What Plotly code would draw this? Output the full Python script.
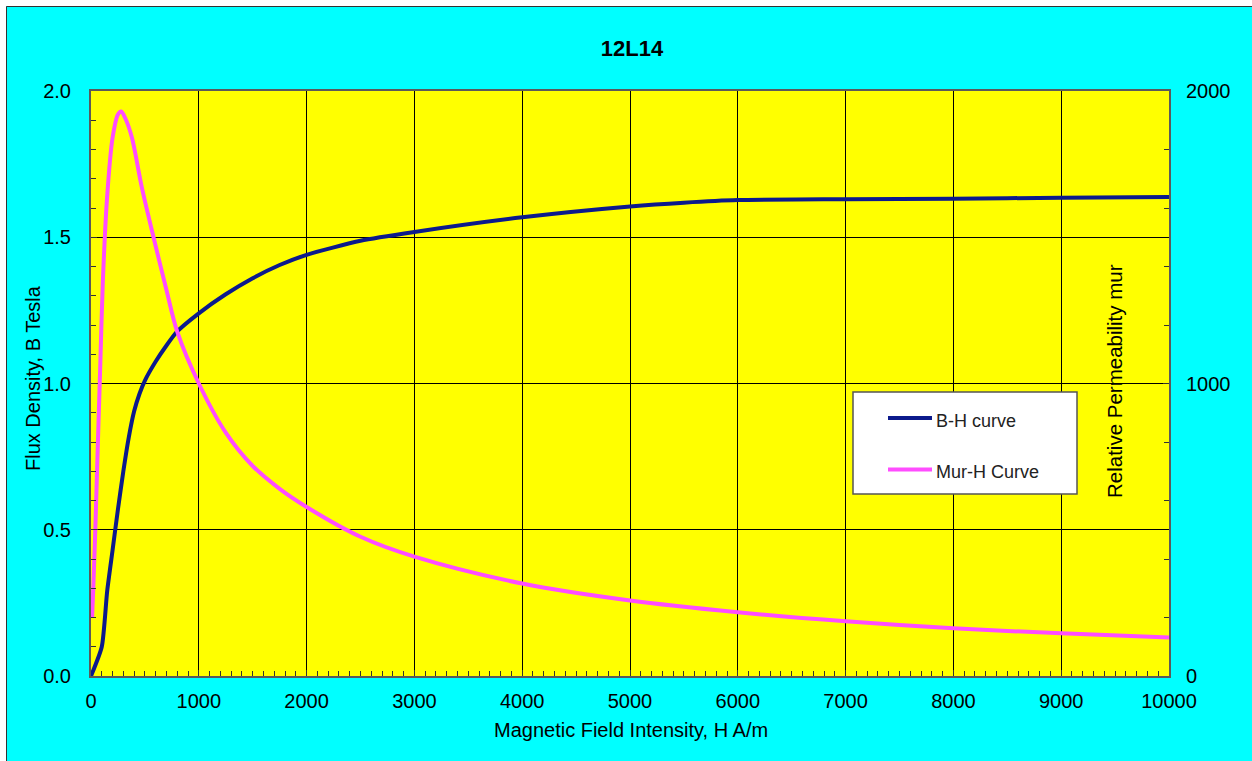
import plotly.graph_objects as go

# ---- data ----
H_bh = [0, 100, 150, 200, 250, 300, 350, 400, 450, 500, 600, 700, 800, 1000, 1250, 1500, 1750,
        2000, 2500, 3000, 4000, 5000, 5500, 6000, 7000, 8000, 9000, 10000]
B_bh = [0.0, 0.10, 0.29, 0.43, 0.57, 0.70, 0.815, 0.905, 0.965, 1.01, 1.075, 1.13, 1.178, 1.24, 1.305, 1.36,
        1.405, 1.44, 1.488, 1.518, 1.568, 1.605, 1.618, 1.627, 1.630, 1.632, 1.635, 1.638]

H_mu = [10, 20, 40, 60, 85, 110, 150, 200, 250, 280, 320, 380, 470, 580, 700, 800,
        1000, 1250, 1500, 1750, 2000, 2500, 3000, 4000, 5000, 6000, 7000, 8000, 9000, 10000]
MUR = [200, 290, 500, 750, 1050, 1350, 1640, 1840, 1920, 1930, 1905, 1840, 1673, 1500, 1320, 1177,
       1000, 832, 718, 640, 578, 476, 408, 316, 258, 218, 187, 163, 146, 132]

title_text = "12L14"
x_title = "Magnetic Field Intensity, H A/m"
y_title = "Flux Density, B Tesla"
y2_title = "Relative Permeability mur"
series_names = ["B-H curve", "Mur-H Curve"]

# ---- styling / layout ----
W, Hh = 1252, 761
L, R, T, B = 91, 83, 91, 85
PW, PH = W - L - R, Hh - T - B
FONT = "Liberation Sans, Arial, Helvetica, sans-serif"
BLUE = "#0c1a8c"
PINK = "#ff4dff"
FS = 20


def px_x(px):
    return (px - L) / PW


def px_y(py):
    return (Hh - B - py) / PH


fig = go.Figure()
fig.add_trace(go.Scatter(x=H_bh, y=B_bh, mode="lines", name=series_names[0],
                         line=dict(color=BLUE, width=4, shape="spline", smoothing=0.6),
                         showlegend=False))
fig.add_trace(go.Scatter(x=H_mu, y=MUR, mode="lines", name=series_names[1], yaxis="y2",
                         line=dict(color=PINK, width=4, shape="spline", smoothing=0.9),
                         showlegend=False))

axis_common = dict(showline=True, linecolor="#5a5a5a", linewidth=2, zeroline=False,
                   ticks="inside", ticklen=6, tickcolor="#333333", tickwidth=1,
                   tickfont=dict(family=FONT, size=FS, color="black"))

fig.update_layout(
    width=W, height=Hh,
    margin=dict(l=L, r=R, t=T, b=B, autoexpand=False),
    paper_bgcolor="#00ffff",
    plot_bgcolor="#ffff00",
    title=dict(text="<b>%s</b>" % title_text, xref="paper", x=px_x(632), xanchor="center",
               yref="container", y=1 - 48 / Hh, yanchor="middle",
               font=dict(family=FONT, size=22, color="black")),
    xaxis=dict(range=[0, 10000], dtick=1000, tick0=0, tickformat="d", showgrid=True, gridcolor="black",
               gridwidth=1, mirror=True, ticklabelstandoff=6,
               minor=dict(dtick=100, ticks="inside", ticklen=5, tickcolor="#333333", showgrid=False),
               **axis_common),
    yaxis=dict(range=[0, 2], dtick=0.5, tick0=0, tickformat=".1f", showgrid=True, gridcolor="black",
               gridwidth=1, ticklabelstandoff=14,
               minor=dict(dtick=0.1, ticks="inside", ticklen=5, tickcolor="#333333", showgrid=False),
               **axis_common),
    yaxis2=dict(range=[0, 2000], dtick=1000, tick0=0, tickformat="d", overlaying="y", side="right",
                showgrid=False, ticklabelstandoff=11,
                minor=dict(dtick=200, ticks="inside", ticklen=5, tickcolor="#333333", showgrid=False),
                **axis_common),
    showlegend=False,
)

shapes = [
    # white margin strips at top and left of the image, with thin dark border
    dict(type="rect", xref="paper", yref="paper", x0=px_x(0), x1=px_x(W), y0=px_y(6), y1=px_y(0),
         fillcolor="white", line=dict(width=0), layer="below"),
    dict(type="rect", xref="paper", yref="paper", x0=px_x(0), x1=px_x(6), y0=px_y(Hh), y1=px_y(0),
         fillcolor="white", line=dict(width=0), layer="below"),
    dict(type="line", xref="paper", yref="paper", x0=px_x(6.5), x1=px_x(W), y0=px_y(6.5), y1=px_y(6.5),
         line=dict(color="#333333", width=1)),
    dict(type="line", xref="paper", yref="paper", x0=px_x(6.5), x1=px_x(6.5), y0=px_y(6.5), y1=px_y(Hh),
         line=dict(color="#333333", width=1)),
    # legend box
    dict(type="rect", xref="paper", yref="paper", x0=px_x(853), x1=px_x(1077), y0=px_y(494), y1=px_y(392),
         fillcolor="white", line=dict(color="#555555", width=1.5), layer="above"),
    dict(type="line", xref="paper", yref="paper", x0=px_x(888), x1=px_x(932), y0=px_y(418), y1=px_y(418),
         line=dict(color=BLUE, width=4), layer="above"),
    dict(type="line", xref="paper", yref="paper", x0=px_x(888), x1=px_x(932), y0=px_y(469.5), y1=px_y(469.5),
         line=dict(color=PINK, width=4), layer="above"),
]
fig.update_layout(shapes=shapes)

annos = [
    dict(text=x_title, xref="paper", yref="paper", x=px_x(631), y=px_y(730), xanchor="center",
         yanchor="middle", showarrow=False, font=dict(family=FONT, size=FS, color="black")),
    dict(text=y_title, xref="paper", yref="paper", x=px_x(33), y=px_y(378), xanchor="center",
         yanchor="middle", textangle=-90, showarrow=False, font=dict(family=FONT, size=FS, color="black")),
    dict(text=y2_title, xref="paper", yref="paper", x=px_x(1114), y=px_y(381), xanchor="center",
         yanchor="middle", textangle=-90, showarrow=False, font=dict(family=FONT, size=20.5, color="black")),
    dict(text=series_names[0], xref="paper", yref="paper", x=px_x(934), y=px_y(420.5), xanchor="left",
         yanchor="middle", showarrow=False, font=dict(family=FONT, size=18, color="#222222")),
    dict(text=series_names[1], xref="paper", yref="paper", x=px_x(934), y=px_y(471.5), xanchor="left",
         yanchor="middle", showarrow=False, font=dict(family=FONT, size=18, color="#222222")),
]
fig.update_layout(annotations=annos)

fig.write_html("out.html")
